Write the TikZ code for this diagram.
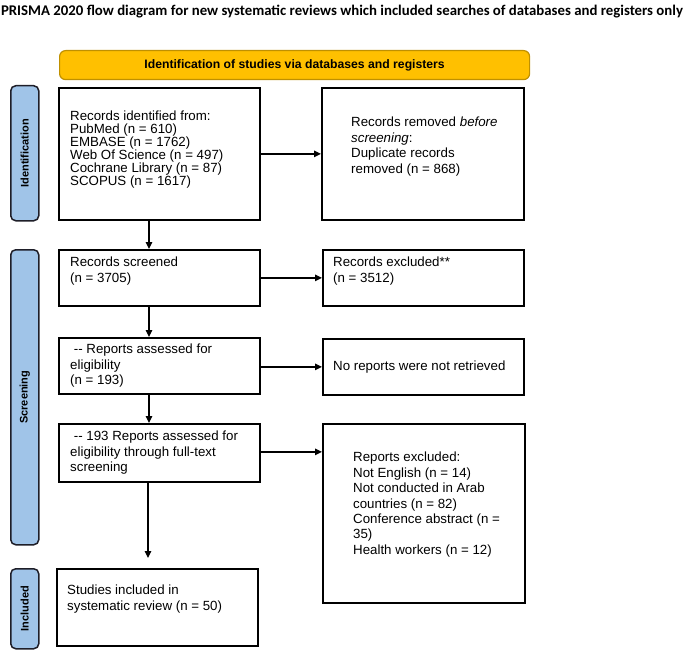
\documentclass[tikz,border=0pt]{standalone}
\usepackage{fontspec}
\setmainfont{Liberation Sans}
\newfontfamily\titlefont{Carlito}
\usetikzlibrary{arrows.meta,calc}
\definecolor{bannerfill}{RGB}{255,192,0}
\definecolor{bannerdraw}{RGB}{191,144,0}
\definecolor{sidefill}{RGB}{160,196,232}
\definecolor{sidedraw}{RGB}{30,30,40}
\begin{document}
\begin{tikzpicture}[x=1pt,y=-1pt,
  box/.style={draw, line width=1.8pt, anchor=north west, inner sep=0pt},
  txt/.style={anchor=north west, align=left, inner sep=0pt, font=\fontsize{13.3}{15.4}\selectfont},
  side/.style={draw=sidedraw, fill=sidefill, line width=1.5pt, rounded corners=5pt, minimum width=28pt, anchor=north west, inner sep=0pt, font=\bfseries\fontsize{11}{13}\selectfont},
  arr/.style={line width=1.2pt, -{Triangle[length=7pt,width=6.5pt]}}]
\useasboundingbox (0,0) rectangle (685,650);
% title
\node[font=\titlefont\bfseries\fontsize{14.8}{17}\selectfont, inner sep=0pt] (title) at (342,12) {PRISMA 2020 flow diagram for new systematic reviews which included searches of databases and registers only};
% banner
\node[draw=bannerdraw, fill=bannerfill, line width=1.2pt, rounded corners=6pt, minimum width=470pt, minimum height=29pt, anchor=north west, inner sep=0pt, font=\bfseries\fontsize{12.2}{14}\selectfont] (banner) at (59,50) {Identification of studies via databases and registers};
% side labels
\node[side, minimum height=135pt] (lid) at (10,85) {\rotatebox{90}{Identification}};
\node[side, minimum height=295pt] (lsc) at (10,249) {\rotatebox{90}{Screening}};
\node[side, minimum height=80pt] (lin) at (10,568) {\rotatebox{90}{Included}};
% boxes
\node[box, minimum width=201pt, minimum height=132pt] (b1) at (58,87) {};
\node[box, minimum width=202pt, minimum height=132pt] (r1) at (321,87) {};
\node[box, minimum width=201pt, minimum height=56pt] (b2) at (58,249) {};
\node[box, minimum width=201pt, minimum height=56pt] (r2) at (322,249) {};
\node[box, minimum width=201pt, minimum height=56pt] (b3) at (58,337) {};
\node[box, minimum width=201pt, minimum height=56pt] (r3) at (322,338) {};
\node[box, minimum width=201pt, minimum height=58pt] (b4) at (58,423) {};
\node[box, minimum width=202pt, minimum height=179pt] (r4) at (322,423) {};
\node[box, minimum width=201pt, minimum height=77pt] (b5) at (56,568) {};
% texts
\node[txt, font=\fontsize{13.3}{13}\selectfont] (t1) at (70,111) {Records identified from:\\PubMed (n = 610)\\EMBASE (n = 1762)\\Web Of Science (n = 497)\\Cochrane Library (n = 87)\\SCOPUS (n = 1617)};
\node[txt] (tr1) at (351,117) {Records removed \textit{before}\\\textit{screening}:\\Duplicate records\\removed (n = 868)};
\node[txt] (t2) at (70,257) {Records screened\\(n = 3705)};
\node[txt] (tr2) at (333,257) {Records excluded**\\(n = 3512)};
\node[txt] (t3) at (70,344) {\ -{}- Reports assessed for\\eligibility\\(n = 193)};
\node[txt] (tr3) at (333,361) {No reports were not retrieved};
\node[txt] (t4) at (70,431) {\ -{}- 193 Reports assessed for\\eligibility through full-text\\screening};
\node[txt] (tr4) at (353,452) {Reports excluded:\\Not English (n = 14)\\Not conducted in Arab\\countries (n = 82)\\Conference abstract (n =\\35)\\Health workers (n = 12)};
\node[txt] (t5) at (67,585) {Studies included in\\systematic review (n = 50)};
% connectors
\coordinate (vx) at (149,0);
\draw[arr] (b1.east) -- (r1.west);
\draw[arr] (b2.east) -- (r2.west);
\draw[arr] (b3.east |- r3.west) -- (r3.west);
\draw[arr] ([yshift=1pt]b4.east) -- ([yshift=1pt]b4.east -| r4.west);
\draw[arr] (b1.south -| vx) -- (b2.north -| vx);
\draw[arr] (b2.south -| vx) -- (b3.north -| vx);
\draw[arr] (b3.south -| vx) -- (b4.north -| vx);
\draw[arr, shorten >=10pt] ([xshift=-1pt]b4.south -| vx) -- ([xshift=-1pt]b5.north -| vx);
\end{tikzpicture}
\end{document}
